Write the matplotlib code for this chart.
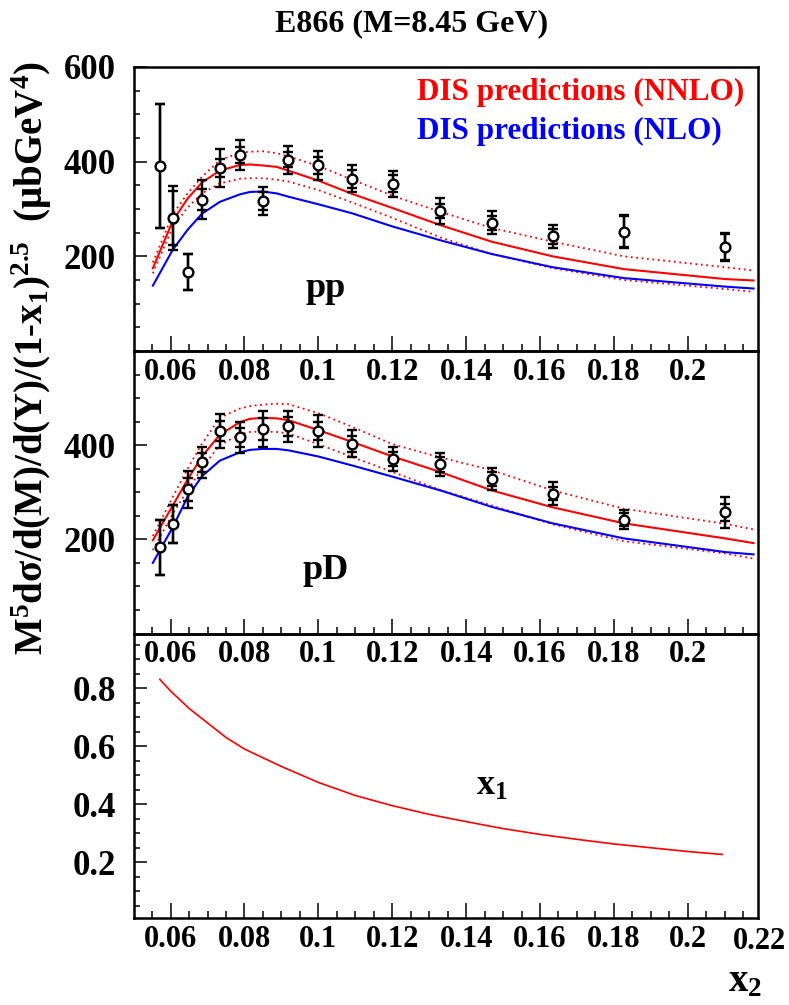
import matplotlib
matplotlib.use('Agg')
import matplotlib.pyplot as plt
from matplotlib.ticker import MultipleLocator, FixedLocator

plt.rcParams['font.family'] = ['Liberation Serif', 'DejaVu Serif']
plt.rcParams['font.weight'] = 'bold'
plt.rcParams['mathtext.fontset'] = 'custom'
plt.rcParams['mathtext.rm'] = 'Liberation Serif:bold'
plt.rcParams['mathtext.it'] = 'Liberation Serif:bold'
plt.rcParams['mathtext.bf'] = 'Liberation Serif:bold'
plt.rcParams['mathtext.default'] = 'rm'

# ---------------- data ----------------
x2_data = [0.0571, 0.0606, 0.0646, 0.0685, 0.0733, 0.0788, 0.0849, 0.0919,
           0.1000, 0.1091, 0.1201, 0.1330, 0.1469, 0.1634, 0.1827, 0.2101]

pp_val = [390, 281, 166, 320, 386, 414, 317, 404, 392, 364, 353, 296, 271, 242, 252, 220]
pp_tot = [131, 67, 38, 42, 40, 32, 29, 30, 30, 29, 28, 27, 24, 24, 35, 29]
pp_stat = [131, 57, 38, 22, 19, 17, 19, 16, 18, 19, 18, 14, 15, 15, 33, 27]

pd_val = [183, 232, 306, 364, 430, 417, 434, 440, 430, 403, 371, 359, 328, 297, 242, 257]
pd_tot = [58, 40, 39, 33, 37, 33, 38, 33, 34, 29, 25, 25, 24, 24, 21, 32]
pd_stat = [58, 40, 24, 20, 22, 20, 23, 20, 20, 17, 15, 15, 14, 14, 13, 19]

x2_curve = [0.0552, 0.0606, 0.0646, 0.0685, 0.0733, 0.0788, 0.0815, 0.0849, 0.0887,
            0.0919, 0.1000, 0.1091, 0.1201, 0.1330, 0.1469, 0.1634, 0.1827, 0.2101, 0.2178]

pp_nnlo = [175, 275, 322, 356, 381, 393, 394, 392, 389, 381, 360, 332, 302, 266, 231, 200, 173, 152, 149]
pp_nnlo_up = [187, 289, 333, 368, 403, 419, 421, 422, 418, 411, 391, 362, 328, 294, 260, 231, 200, 177, 170]
pp_nnlo_lo = [164, 262, 303, 333, 354, 364, 365, 365, 362, 358, 340, 314, 281, 240, 205, 175, 150, 131, 125]
pp_nlo = [138, 214, 256, 290, 315, 331, 336, 337, 333, 326, 310, 291, 263, 234, 205, 177, 154, 136, 132]

pd_nnlo = [198, 272, 327, 376, 422, 449, 456, 458, 457, 453, 432, 407, 376, 343, 304, 268, 234, 202, 192]
pd_nnlo_up = [207, 290, 350, 403, 458, 478, 483, 486, 488, 487, 468, 439, 402, 374, 347, 304, 265, 233, 221]
pd_nnlo_lo = [177, 255, 304, 352, 400, 423, 428, 429, 428, 425, 402, 375, 343, 305, 272, 232, 196, 170, 159]
pd_nlo = [150, 226, 290, 334, 367, 385, 390, 392, 392, 389, 376, 357, 333, 304, 269, 234, 202, 173, 168]

x2_kin = [0.0571, 0.060, 0.065, 0.070, 0.075, 0.080, 0.090, 0.100, 0.110, 0.120,
          0.130, 0.140, 0.150, 0.160, 0.170, 0.180, 0.190, 0.200, 0.2093]
x1_kin = [0.83, 0.79, 0.73, 0.68, 0.63, 0.59, 0.53, 0.475, 0.43, 0.395,
          0.365, 0.34, 0.316, 0.296, 0.279, 0.263, 0.25, 0.237, 0.227]

xtick_vals = [0.06, 0.08, 0.10, 0.12, 0.14, 0.16, 0.18, 0.20]
xtick_labels = ['0.06', '0.08', '0.1', '0.12', '0.14', '0.16', '0.18', '0.2']

# ---------------- figure ----------------
W, H = 789, 1005
fig = plt.figure(figsize=(W / 100, H / 100), dpi=100)

L = 134 / W
Wd = (758 - 134) / W
def frac(ytop, ybot):
    return [L, 1 - ybot / H, Wd, (ybot - ytop) / H]

ax1 = fig.add_axes(frac(67, 351))
ax2 = fig.add_axes(frac(351, 633.5))
ax3 = fig.add_axes(frac(633.5, 918))

RED = '#ff0000'
BLUE = '#0000ff'

for ax in (ax1, ax2, ax3):
    ax.set_facecolor('none')
    ax.set_xlim(0.0501, 0.219)
    for s in ax.spines.values():
        s.set_linewidth(1.8)
    ax.xaxis.set_major_locator(FixedLocator(xtick_vals))
    ax.set_xticklabels(xtick_labels)
    ax.xaxis.set_minor_locator(MultipleLocator(0.005))
    ax.tick_params(axis='x', which='major', direction='in', length=11, width=1.1,
                   top=False, labelsize=22, pad=5)
    ax.tick_params(axis='x', which='minor', direction='in', length=5, width=1.1, top=False)
    ax.tick_params(axis='y', which='major', direction='in', length=9, width=1.1,
                   right=False, labelsize=25, pad=13)
    ax.tick_params(axis='y', which='minor', direction='in', length=4.5, width=1.1, right=False)

def draw_panel(ax, vals, tot, stat, nnlo, up, lo, nlo):
    ax.plot(x2_curve, up, color=RED, lw=1.3, ls=(0, (1, 2)))
    ax.plot(x2_curve, lo, color=RED, lw=1.3, ls=(0, (1, 2)))
    ax.plot(x2_curve, nlo, color=BLUE, lw=1.5)
    ax.plot(x2_curve, nnlo, color=RED, lw=1.5)
    ax.errorbar(x2_data, vals, yerr=tot, fmt='none', ecolor='black', elinewidth=1.7,
                capsize=3.5, capthick=1.7, zorder=4)
    ax.errorbar(x2_data, vals, yerr=stat, fmt='none', ecolor='black', elinewidth=1.7,
                capsize=3.5, capthick=1.7, zorder=4)
    ax.plot(x2_data, vals, 'o', mfc='white', mec='black', ms=7, mew=1.7, zorder=5)
    ax.set_ylim(0, 600)
    ax.yaxis.set_minor_locator(MultipleLocator(50))

draw_panel(ax1, pp_val, pp_tot, pp_stat, pp_nnlo, pp_nnlo_up, pp_nnlo_lo, pp_nlo)
ax1.yaxis.set_major_locator(FixedLocator([200, 400, 600]))
ax1.text(0.102, 133, 'pp', fontsize=26, ha='center', va='center')
ax1.text(0.1267, 546, 'DIS predictions (NNLO)', color=RED, fontsize=22.5, ha='left', va='center')
ax1.text(0.1267, 463, 'DIS predictions (NLO)', color=BLUE, fontsize=22.5, ha='left', va='center')

draw_panel(ax2, pd_val, pd_tot, pd_stat, pd_nnlo, pd_nnlo_up, pd_nnlo_lo, pd_nlo)
ax2.yaxis.set_major_locator(FixedLocator([200, 400]))
ax2.text(0.102, 134, 'pD', fontsize=26, ha='center', va='center')

ax3.plot(x2_kin, x1_kin, color=RED, lw=1.2)
ax3.set_ylim(0.008, 0.988)
ax3.yaxis.set_major_locator(FixedLocator([0.2, 0.4, 0.6, 0.8]))
ax3.set_yticklabels(['0.2', '0.4', '0.6', '0.8'])
ax3.yaxis.set_minor_locator(MultipleLocator(0.05))
ax3.text(0.147, 0.46, r'$x_1$', fontsize=26, ha='center', va='center')
ax3.text(0.2195, -0.03, '0.22', fontsize=22, ha='center', va='top',
         transform=ax3.get_xaxis_transform(), clip_on=False)

fig.text(762 / W, 1 - 982 / H, r'$x_2$', fontsize=28, ha='right', va='center')
fig.text(412 / W, 1 - 24 / H, 'E866 (M=8.45 GeV)', fontsize=23, ha='center', va='center')
fig.text(32 / W, 1 - 358 / H,
         r'$M^{5}d\sigma/d(M)/d(Y)/(1$-$x_{1})^{2.5}$  $(\mu bGeV^{4})$',
         fontsize=28, rotation=90, ha='center', va='center')

fig.savefig('out.png', dpi=100)
